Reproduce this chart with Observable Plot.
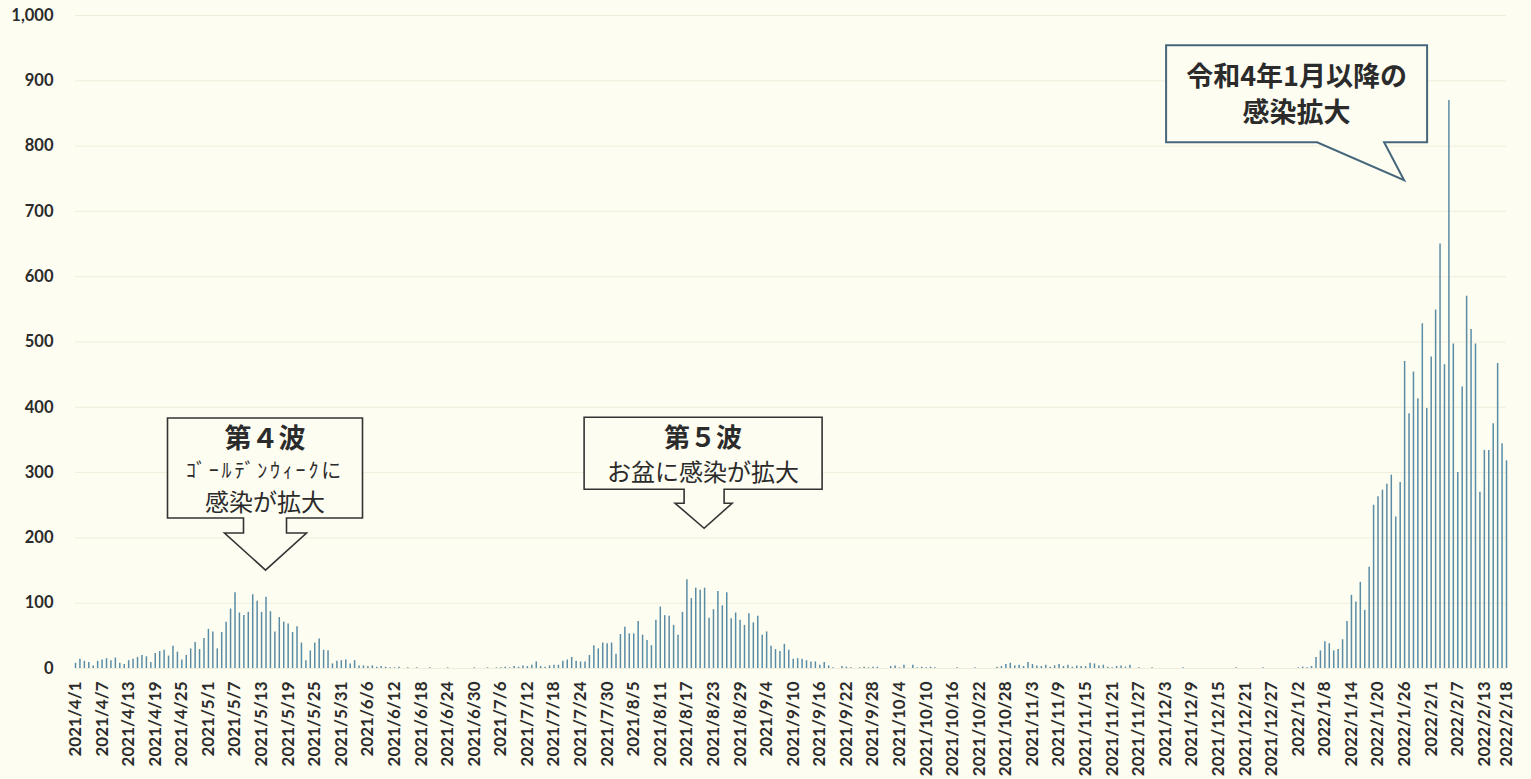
<!DOCTYPE html>
<html>
<head>
<meta charset="utf-8">
<script src="https://cdn.jsdelivr.net/npm/d3@7"></script>
<script src="https://cdn.jsdelivr.net/npm/@observablehq/plot@0.6"></script>
<style>
  html, body { margin: 0; padding: 0; background: #fdfdf1; }
  #chart { width: 1531px; height: 779px; }
</style>
</head>
<body>
<div id="chart"></div>
<script>
// ---- data ----
const startDate = "2021-04-01";
const endDate = "2022-02-18";
// daily new cases, 2021/4/1 .. 2022/2/18 (324 days)
const cases = [
  8,14,11,9,4,11,13,15,12,16,
  8,6,12,14,17,20,18,9,23,26,
  28,19,34,25,13,20,30,40,29,46,
  60,56,30,55,71,91,116,85,81,86,
  113,103,86,109,87,56,78,71,68,55,
  64,39,12,27,39,45,28,27,7,11,
  12,13,7,12,4,4,3,4,2,3,
  2,1,1,2,0,1,0,1,0,0,
  1,0,0,0,1,0,0,0,0,0,
  1,0,0,1,0,1,1,2,1,3,
  2,4,3,5,10,3,2,4,5,5,
  11,13,17,11,10,10,20,35,30,39,
  38,39,22,52,63,53,53,72,51,43,
  35,74,94,81,80,66,51,86,136,107,
  123,120,123,77,90,118,96,116,76,85,
  74,66,84,70,80,51,56,34,29,26,
  37,28,14,15,14,12,10,10,5,9,
  4,1,0,3,2,1,0,1,2,1,
  2,2,0,0,3,4,1,5,0,5,
  1,2,1,2,1,0,0,0,0,1,
  0,0,0,1,0,0,0,0,2,3,
  6,8,4,5,3,9,6,4,3,5,
  2,4,6,3,5,2,4,3,3,8,
  7,4,5,2,1,3,4,2,5,0,
  1,0,0,1,0,0,0,0,0,0,
  1,0,0,0,0,0,0,0,0,0,
  0,0,1,0,0,0,0,0,1,0,
  0,0,0,0,0,0,1,2,1,3,
  17,27,41,38,27,29,44,72,112,102,
  132,89,155,250,263,273,282,296,232,285,
  470,390,454,413,528,398,477,549,650,465,
  870,497,300,431,570,519,497,270,334,334,
  375,467,344,318
];
const yTicks = [0,100,200,300,400,500,600,700,800,900,1000];
const labelEveryDays = 6;

// annotations: tip anchored at (date, value)
const calloutWave4 = {date: "2021-05-14", value: 150, lines: ["第４波", "ｺﾞｰﾙﾃﾞﾝｳｨｰｸに", "感染が拡大"]};
const calloutWave5 = {date: "2021-08-21", value: 214, lines: ["第５波", "お盆に感染が拡大"]};
const calloutWave6 = {date: "2022-01-26", value: 747, lines: ["令和4年1月以降の", "感染拡大"]};

// ---- build ----
const start = new Date(startDate + "T00:00:00Z");
const end = new Date(endDate + "T00:00:00Z");
const dates = d3.utcDay.range(start, d3.utcDay.offset(end, 1));
const data = dates.map((d, i) => ({date: d, value: cases[i]}));
const xTicks = dates.filter((d, i) => i % labelEveryDays === 0);
xTicks.push(end);
const fmtDate = d => `${d.getUTCFullYear()}/${d.getUTCMonth() + 1}/${d.getUTCDate()}`;

const BG = "#fdfdf1";
const TEXT = "#2b2b2b";

const chart = Plot.plot({
  width: 1531,
  height: 779,
  marginLeft: 75,
  marginRight: 25,
  marginTop: 15,
  marginBottom: 111,
  style: {background: "transparent", fontFamily: "Lato, 'Noto Sans', sans-serif", color: TEXT, overflow: "visible"},
  x: {type: "utc", domain: [start, end], label: null},
  y: {domain: [0, 1000], label: null},
  marks: [
    Plot.gridY(yTicks, {stroke: "#f0eedb", strokeOpacity: 1, strokeWidth: 1}),
    Plot.ruleX(data, {x: "date", y1: 0, y2: "value", stroke: "#5a8ca6", strokeWidth: 1.5}),
    Plot.axisY(yTicks, {tickSize: 0, tickPadding: 22, tickFormat: d3.format(","), fontSize: 16.5, fontWeight: "bold", fill: TEXT}),
    Plot.axisX(xTicks, {tickSize: 0, tickPadding: 13, tickRotate: -90, tickFormat: fmtDate, fontSize: 17, fontWeight: "bold", fill: TEXT})
  ]
});
document.getElementById("chart").appendChild(chart);

// ---- callouts (anchored through the chart's scales) ----
const sx = chart.scale("x"), sy = chart.scale("y");
const svg = d3.select(chart);
const g = svg.append("g").attr("font-family", "'Noto Sans CJK JP', sans-serif");

function tipOf(c) {
  return [sx.apply(new Date(c.date + "T00:00:00Z")), sy.apply(c.value)];
}

function drawText(cx, rows, tx, ty) {
  for (const r of rows) {
    g.append("text")
      .attr("x", tx + cx).attr("y", ty + r.dy)
      .attr("text-anchor", "middle").attr("dominant-baseline", "central")
      .attr("font-size", r.size).attr("font-weight", r.bold ? 700 : 400)
      .attr("letter-spacing", r.ls || 0)
      .attr("fill", TEXT).text(r.t);
  }
}

// down-arrow callout
function downArrow(c, s, rows, stroke) {
  const [tx, ty] = tipOf(c);
  const p = d3.path();
  p.moveTo(tx + s.L, ty + s.T);
  p.lineTo(tx + s.R, ty + s.T);
  p.lineTo(tx + s.R, ty + s.B);
  p.lineTo(tx + s.sr, ty + s.B);
  p.lineTo(tx + s.sr, ty + s.wy);
  p.lineTo(tx + s.wr, ty + s.wy);
  p.lineTo(tx, ty);
  p.lineTo(tx + s.wl, ty + s.wy);
  p.lineTo(tx + s.sl, ty + s.wy);
  p.lineTo(tx + s.sl, ty + s.B);
  p.lineTo(tx + s.L, ty + s.B);
  p.closePath();
  g.append("path").attr("d", p.toString()).attr("fill", BG).attr("stroke", stroke).attr("stroke-width", 1.6);
  drawText((s.L + s.R) / 2, rows, tx, ty);
}

downArrow(calloutWave4,
  {L: -98, R: 97, T: -152, B: -52, sl: -22, sr: 21, wl: -41, wr: 41, wy: -37},
  [
    {t: calloutWave4.lines[0], dy: -134, size: 27, bold: true},
    {t: calloutWave4.lines[1], dy: -101, size: 20, ls: 2.8},
    {t: calloutWave4.lines[2], dy: -70, size: 24}
  ], "#333");

downArrow(calloutWave5,
  {L: -120, R: 118, T: -111, B: -39, sl: -20, sr: 20, wl: -29, wr: 28, wy: -25},
  [
    {t: calloutWave5.lines[0], dy: -93, size: 26, bold: true},
    {t: calloutWave5.lines[1], dy: -58, size: 24}
  ], "#333");

// rectangular callout with pointer
(function () {
  const c = calloutWave6;
  const [tx, ty] = tipOf(c);
  const s = {L: -238, R: 23, T: -135, B: -38, p1: -87, p2: -20};
  const p = d3.path();
  p.moveTo(tx + s.L, ty + s.T);
  p.lineTo(tx + s.R, ty + s.T);
  p.lineTo(tx + s.R, ty + s.B);
  p.lineTo(tx + s.p2, ty + s.B);
  p.lineTo(tx, ty);
  p.lineTo(tx + s.p1, ty + s.B);
  p.lineTo(tx + s.L, ty + s.B);
  p.closePath();
  g.append("path").attr("d", p.toString()).attr("fill", BG).attr("stroke", "#46677b").attr("stroke-width", 2);
  drawText((s.L + s.R) / 2, [
    {t: c.lines[0], dy: -106, size: 27, bold: true},
    {t: c.lines[1], dy: -70, size: 27, bold: true}
  ], tx, ty);
})();
</script>
</body>
</html>
